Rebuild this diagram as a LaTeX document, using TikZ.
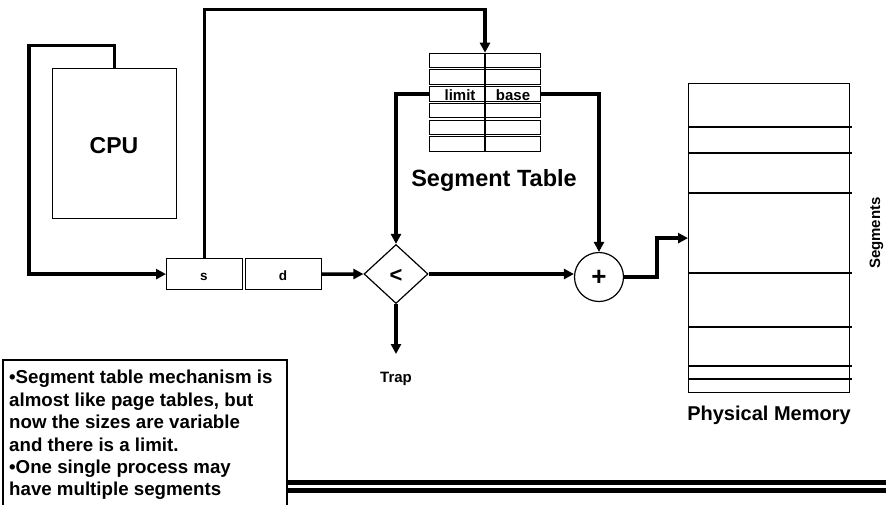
\documentclass[tikz,border=0pt]{standalone}
\usepackage{fontspec}
\setmainfont{Liberation Sans}
\usetikzlibrary{arrows.meta,shapes.geometric,calc}
\newcommand\fsz[1]{\fontsize{#1pt}{1.2\dimexpr#1pt\relax}\selectfont\bfseries}
\tikzset{
  conn/.style={line width=3.5pt, -{Triangle[length=10pt,width=10pt]}},
  box/.style={draw, line width=1.2pt, inner sep=0pt},
  rowbox/.style={draw, line width=1pt, inner sep=0pt, minimum width=111pt, minimum height=14.5pt, anchor=north west},
  lbl/.style={inner sep=0pt, anchor=base},
  memline/.style={line width=1.2pt},
}
\begin{document}
\begin{tikzpicture}[x=1pt,y=-1pt]
\useasboundingbox (0,0) rectangle (886,504);

% CPU
\node[box, anchor=north west, minimum width=124pt, minimum height=150pt] (cpu) at (52,68) {};
\node[lbl, font=\fsz{23}] (cpulbl) at (114,153) {CPU};

% logical address
\node[box, anchor=north west, minimum width=76pt, minimum height=31pt] (s) at (166,258) {};
\node[box, anchor=north west, minimum width=76pt, minimum height=31pt] (d) at (245,258) {};
\node[lbl, font=\fsz{13.5}] (slbl) at (204,280) {s};
\node[lbl, font=\fsz{13.5}] (dlbl) at (283,280) {d};

% segment table
\foreach \i in {1,...,6} {
  \node[rowbox] (r\i) at (429,{52.7+(\i-1)*16.7}) {};
}
\draw[line width=1.2pt] (r1.north) -- (r6.south);
\node[lbl, font=\fsz{15}] (limit) at (460,100.5) {limit};
\node[lbl, font=\fsz{15}] (base) at (513,100) {base};
\node[lbl, font=\fsz{23.5}] (stlbl) at (494,186) {Segment Table};

% comparator and adder
\node[draw, line width=1.2pt, diamond, inner sep=0pt, minimum width=64pt, minimum height=59pt] (lt) at (396,274) {};
\node[font=\fsz{22}, inner sep=0pt] (ltlbl) at (396,276) {<};
\node[draw, line width=1.2pt, circle, inner sep=0pt, minimum size=49pt] (plus) at (599,277) {};
\node[font=\fsz{26}, inner sep=0pt] (pluslbl) at (599,278) {+};

% trap
\coordinate (trapend) at (396,354);
\node[lbl, font=\fsz{15}] (trap) at (396,382) {Trap};

% physical memory
\node[box, anchor=north west, minimum width=161pt, minimum height=309pt] (mem) at (688,83) {};
\foreach \y in {127,153,193,273,327,366,379} {
  \draw[memline] (688,\y) -- (852,\y);
}
\node[lbl, font=\fsz{15}, rotate=90] (seglbl) at (880,233) {Segments};
\node[lbl, font=\fsz{20}] (pmlbl) at (769,420) {Physical Memory};

% connectors
\draw[conn] (cpu.north) |- (29,45.5) |- (s.west);
\draw[conn] (s.north) -- (s.north |- 0,9.5) -| (r1.north);
\draw[conn] (r3.west) -| (lt.north);
\draw[conn] (r3.east) -| (plus.north);
\draw[conn] (d.east) -- (lt.west);
\draw[conn] (lt.east) -- (lt.east -| plus.west);
\draw[conn] (plus.east) -- ++(33,0) |- (mem.west);
\draw[conn] (lt.south) -- (trapend);

% note box
\draw[line width=1.2pt] (3,506) -- (3,360) -- (287,360) -- (287,506);
\node[anchor=north west, inner sep=0pt, align=left, font=\fsz{18.7}] (note) at (9,370)
  {•Segment table mechanism is\\
   almost like page tables, but\\
   now the sizes are variable\\
   and there is a limit.\\
   •One single process may\\
   have multiple segments};

% bottom rules
\coordinate (ruleA) at (287,482.5);
\coordinate (ruleB) at (287,490);
\draw[line width=5pt] (ruleA) -- (ruleA -| 886,0);
\draw[line width=5pt] (ruleB) -- (ruleB -| 886,0);
\end{tikzpicture}
\end{document}
